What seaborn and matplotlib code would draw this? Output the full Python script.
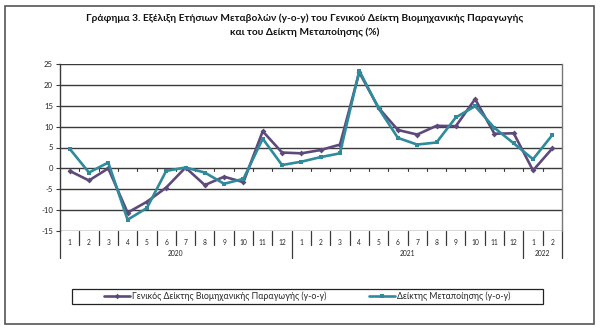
import matplotlib
matplotlib.use("Agg")
import matplotlib.pyplot as plt
import matplotlib.transforms as mtransforms
from matplotlib.patches import Rectangle
import numpy as np
import pandas as pd
import seaborn as sns

# Monthly year-on-year changes (%), Jan 2020 - Feb 2022
months = ["1", "2", "3", "4", "5", "6", "7", "8", "9", "10", "11", "12",
          "1", "2", "3", "4", "5", "6", "7", "8", "9", "10", "11", "12",
          "1", "2"]
years = ["2020", "2021", "2022"]
months_per_year = [12, 12, 2]

general_index = [-0.6, -2.9, 0.0, -10.6, -8.0, -4.6, 0.2, -4.0, -2.0, -3.3, 8.9, 3.8,
                 3.6, 4.4, 5.7, 23.0, 14.5, 9.2, 8.1, 10.2, 10.1, 16.6, 8.3, 8.4,
                 -0.5, 4.8]
manufacturing = [4.7, -1.0, 1.4, -12.3, -9.5, -0.6, 0.2, -1.0, -3.7, -2.5, 7.1, 0.8,
                 1.6, 2.7, 3.6, 23.4, 14.4, 7.3, 5.7, 6.2, 12.2, 14.9, 9.7, 6.0,
                 2.2, 8.0]

label_general = "Γενικός Δείκτης Βιομηχανικής Παραγωγής (y-o-y)"
label_manuf = "Δείκτης Μεταποίησης (y-o-y)"
title = ("Γράφημα 3. Εξέλιξη Ετήσιων Μεταβολών (y-o-y) του Γενικού Δείκτη Βιομηχανικής Παραγωγής\n"
         "και του Δείκτη Μεταποίησης (%)")

sns.set_theme(style="white")
plt.rcParams["font.family"] = ["Lato", "DejaVu Sans"]

purple = "#5E4A7A"
teal = "#2F8A9C"
grid_col = "#3a3a3a"

pos = np.arange(len(months))
df = pd.DataFrame({
    "pos": np.concatenate([pos, pos]),
    "value": general_index + manufacturing,
    "series": [label_general] * len(pos) + [label_manuf] * len(pos),
})

fig = plt.figure(figsize=(6.0, 3.31), dpi=100)
ax = fig.add_axes([60 / 600, 1 - 231 / 331, 502 / 600, 167 / 331])

# outer frame of the figure
fig.patches.append(Rectangle((5 / 600, 1 - 324 / 331), 589 / 600, 318 / 331,
                             transform=fig.transFigure, fill=False,
                             edgecolor="#555555", linewidth=1.2))

sns.lineplot(data=df, x="pos", y="value", hue="series", style="series",
             palette={label_general: purple, label_manuf: teal},
             markers={label_general: "D", label_manuf: "s"},
             dashes=False, markersize=3.0, markeredgewidth=0,
             linewidth=1.9, ax=ax, legend=False, zorder=3)

ax.set_xlim(-0.5, len(months) - 0.5)
ax.set_ylim(-15, 25)
ax.set_yticks(np.arange(-15, 26, 5))
ax.set_yticklabels([str(v) for v in range(-15, 26, 5)], fontsize=5.6, color="#222222")
for v in range(-10, 26, 5):
    ax.axhline(v, color=grid_col, linewidth=1.0, zorder=1)
ax.tick_params(axis="y", length=3, width=0.8, color=grid_col, pad=2, left=True)
ax.set_xlabel("")
ax.set_ylabel("")

for side in ["top", "bottom"]:
    ax.spines[side].set_visible(False)
ax.spines["left"].set_color(grid_col)
ax.spines["right"].set_color("#777777")
ax.spines["left"].set_linewidth(1.0)
ax.spines["right"].set_linewidth(1.0)
ax.axhline(-15, color=grid_col, linewidth=1.0, zorder=1)

# category axis at zero: small ticks at category boundaries
for b in np.arange(0.5, len(months) - 0.5, 1):
    ax.plot([b, b], [0, -0.7], color=grid_col, linewidth=0.8, zorder=2)

# month labels and separators below the plot
ax.set_xticks(pos)
ax.set_xticklabels(months, fontsize=4.8, color="#222222")
ax.tick_params(axis="x", length=0, pad=6)
trans = mtransforms.blended_transform_factory(ax.transData, ax.transAxes)
px = 1 / 167
year_starts = np.concatenate([[0], np.cumsum(months_per_year)])
for b in np.arange(-0.5, len(months), 1):
    is_year = any(abs(b - (s - 0.5)) < 1e-9 for s in year_starts)
    depth = 27 if is_year else 14
    ax.plot([b, b], [0, -depth * px], transform=trans, color=grid_col,
            linewidth=0.9, clip_on=False)
for i, yr in enumerate(years):
    centre = (year_starts[i] + year_starts[i + 1]) / 2 - 0.5
    ax.text(centre, -23 * px, yr, transform=trans, ha="center", va="center",
            fontsize=4.8, color="#222222")

fig.text(0.508, 1 - 25 / 331, title, ha="center", va="center",
         fontsize=7.3, fontweight="bold", linespacing=1.6, color="#111111")

# legend: framed box with the two entries centred inside
fig.patches.append(Rectangle((72 / 600, 1 - 304 / 331), 471 / 600, 15 / 331,
                             transform=fig.transFigure, fill=False,
                             edgecolor="#222222", linewidth=0.9))
handles = [
    plt.Line2D([], [], color=purple, linewidth=1.9, marker="D", markersize=2.8, markeredgewidth=0),
    plt.Line2D([], [], color=teal, linewidth=1.9, marker="s", markersize=3.0, markeredgewidth=0),
]
fig.legend(handles, [label_general, label_manuf], ncol=2, loc="center",
           bbox_to_anchor=(307.5 / 600, 1 - 296.5 / 331),
           fontsize=6.3, frameon=False, handlelength=2.9,
           handletextpad=0.3, columnspacing=4.9, borderpad=0, borderaxespad=0)

fig.savefig("out.png", dpi=100, facecolor="white")
